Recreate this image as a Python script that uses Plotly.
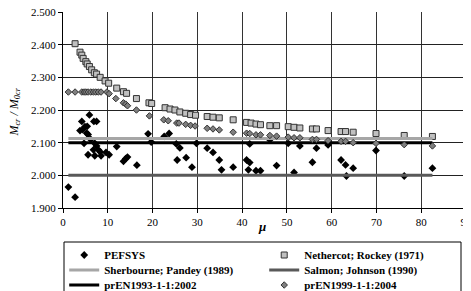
import plotly.graph_objects as go

# ---- data ----
pef_mu = [1.2, 2.7, 3.8, 4.2, 4.4, 4.7, 4.9, 5.3, 5.4, 5.6, 5.6, 5.9, 6.2, 6.8, 6.9, 7.1, 7.1, 7.5, 7.5,
          7.9, 8.3, 8.5, 9.6, 10.3, 12.0, 13.5, 14.0, 14.4, 16.5, 19.0, 19.7, 22.6, 23.7, 25.3, 26.1,
          25.5, 27.5, 28.8, 29.8, 32.2, 33.5, 34.9, 35.4, 38.0, 41.0, 41.7, 41.4, 43.1, 44.1, 41.7,
          46.2, 47.7, 50.3, 51.6, 52.9, 55.7, 56.6, 59.2, 62.1, 63.1, 63.3, 64.8, 69.9, 76.2, 82.5]
pef_val = [1.964, 1.933, 2.137, 2.165, 2.140, 2.098, 2.149, 2.129, 2.150, 2.125, 2.063, 2.185, 2.110,
           2.078, 2.165, 2.098, 2.060, 2.165, 2.090, 2.078, 2.072, 2.060, 2.070, 2.063, 2.088, 2.043,
           2.051, 2.056, 2.031, 2.127, 2.102, 2.119, 2.128, 2.096, 2.084, 2.047, 2.054, 2.025, 2.098,
           2.083, 2.070, 2.047, 2.017, 2.025, 2.047, 2.039, 2.017, 2.014, 2.014, 2.096, 2.109, 2.030,
           2.098, 2.009, 2.090, 2.040, 2.083, 2.093, 2.047, 2.032, 1.998, 2.022, 2.076, 1.998, 2.022]

net_mu = [2.7, 3.8, 4.2, 4.5, 5.1, 5.4, 5.9, 6.4, 7.0, 7.5, 8.3, 9.4, 10.2, 12.0, 13.5, 14.2, 16.4,
          19.2, 19.8, 22.8, 23.9, 25.0, 26.1, 27.4, 28.5, 29.6, 32.2, 33.5, 34.9, 38.0, 41.0, 42.0,
          43.1, 44.1, 46.2, 47.7, 50.3, 51.6, 52.9, 55.7, 56.6, 59.2, 62.1, 63.1, 64.8, 69.9, 76.2, 82.5]
net_val = [2.403, 2.377, 2.368, 2.358, 2.348, 2.341, 2.333, 2.323, 2.314, 2.310, 2.300, 2.289, 2.282,
           2.267, 2.256, 2.251, 2.235, 2.222, 2.220, 2.207, 2.203, 2.200, 2.194, 2.190, 2.186, 2.184,
           2.180, 2.178, 2.176, 2.170, 2.162, 2.160, 2.157, 2.155, 2.152, 2.152, 2.149, 2.147, 2.145,
           2.142, 2.142, 2.137, 2.134, 2.134, 2.132, 2.128, 2.122, 2.119]

en99_mu = [1.2, 2.7, 4.2, 4.7, 5.1, 5.6, 6.2, 6.8, 7.3, 7.9, 8.5, 9.8, 10.3, 11.8, 13.5, 14.0, 14.4,
           16.4, 19.3, 22.5, 23.5, 25.4, 25.9, 27.4, 28.5, 29.5, 32.2, 33.5, 34.9, 38.0, 41.0, 41.7,
           43.1, 44.1, 46.2, 47.7, 50.3, 51.6, 52.9, 55.7, 56.6, 59.2, 62.1, 63.1, 64.8, 69.9, 76.2, 82.5]
en99_val = [2.255, 2.255, 2.255, 2.255, 2.255, 2.255, 2.255, 2.255, 2.255, 2.255, 2.255, 2.255, 2.250,
            2.235, 2.222, 2.218, 2.213, 2.200, 2.182, 2.170, 2.167, 2.160, 2.160, 2.156, 2.153, 2.151,
            2.144, 2.142, 2.139, 2.132, 2.129, 2.128, 2.124, 2.124, 2.122, 2.120, 2.117, 2.115, 2.115,
            2.110, 2.110, 2.106, 2.104, 2.104, 2.100, 2.098, 2.094, 2.090]

line_mu = [1.2, 82.5]
sherbourne_val = [2.113, 2.113]
salmon_val = [2.000, 2.000]
en93_val = [2.100, 2.100]

x_ticks = [0, 10, 20, 30, 40, 50, 60, 70, 80, 90]
y_ticks = [1.9, 2.0, 2.1, 2.2, 2.3, 2.4, 2.5]

SERIF = "Liberation Serif, Times New Roman, serif"

fig = go.Figure()
fig.add_trace(go.Scatter(x=pef_mu, y=pef_val, mode="markers", name="PEFSYS", legend="legend",
                         marker=dict(symbol="diamond", size=6, color="#000000")))
fig.add_trace(go.Scatter(x=net_mu, y=net_val, mode="markers", name="Nethercot; Rockey (1971)",
                         legend="legend",
                         marker=dict(symbol="square", size=6, color="#c0c0c0",
                                     line=dict(color="#333333", width=1))))
fig.add_trace(go.Scatter(x=line_mu, y=sherbourne_val, mode="lines", name="Sherbourne; Pandey (1989)",
                         legend="legend2", line=dict(color="#a6a6a6", width=3)))
fig.add_trace(go.Scatter(x=line_mu, y=salmon_val, mode="lines", name="Salmon; Johnson (1990)",
                         legend="legend2", line=dict(color="#595959", width=3)))
fig.add_trace(go.Scatter(x=line_mu, y=en93_val, mode="lines", name="prEN1993-1-1:2002",
                         legend="legend3", line=dict(color="#000000", width=3)))
fig.add_trace(go.Scatter(x=en99_mu, y=en99_val, mode="markers", name="prEN1999-1-1:2004",
                         legend="legend3",
                         marker=dict(symbol="diamond", size=5, color="#7f7f7f",
                                     line=dict(color="#333333", width=1))))

# The page body has an 8px margin, so the figure is drawn 8px right/down in the window.
# Target plot area in window pixels: x 63..466, y 12..208 (height 196).
def py(px):
    return (208 - px) / 196.0

leg_common = dict(orientation="h", x=0.003, xanchor="left", yanchor="middle",
                  borderwidth=0, bgcolor="rgba(0,0,0,0)",
                  entrywidth=155, entrywidthmode="pixels", itemwidth=30,
                  font=dict(family=SERIF, size=11, color="black", weight="bold"))

fig.update_layout(
    width=463, height=283,
    margin=dict(l=55, r=5, t=4, b=83, autoexpand=False),
    paper_bgcolor="white", plot_bgcolor="white",
    font=dict(family=SERIF, size=11, color="black"),
    showlegend=True,
    legend=dict(leg_common, y=py(255)),
    legend2=dict(leg_common, y=py(270)),
    legend3=dict(leg_common, y=py(285)),
    xaxis=dict(range=[0, 90], tickvals=x_ticks, ticks="outside", ticklen=4, tickcolor="black",
               showline=True, linecolor="black", linewidth=1, ticklabeloverflow="allow",
               showgrid=True, gridcolor="#333333", gridwidth=1, zeroline=False,
               tickfont=dict(family=SERIF, size=11)),
    yaxis=dict(range=[1.9, 2.5], tickvals=y_ticks, tickformat=".3f", ticks="outside", ticklen=4,
               tickcolor="black", showline=True, linecolor="black", linewidth=1,
               ticklabeloverflow="allow",
               showgrid=True, gridcolor="#222222", gridwidth=1, zeroline=False,
               tickfont=dict(family=SERIF, size=11)),
    shapes=[dict(type="rect", xref="paper", yref="paper",
                 x0=(64 - 63) / 403.0, x1=(461 - 63) / 403.0, y0=py(242), y1=py(300),
                 line=dict(color="black", width=1), fillcolor="rgba(0,0,0,0)")],
    annotations=[
        dict(text="<b><i>μ</i></b>", xref="x", yref="paper", x=44.4, y=py(226),
             xanchor="center", yanchor="middle", showarrow=False,
             font=dict(family=SERIF, size=13)),
        dict(text="<i>M<sub>cr</sub> / M<sub>0cr</sub></i>", xref="paper", yref="paper",
             x=-0.12, y=0.49, xanchor="center", yanchor="middle", textangle=-90,
             showarrow=False, font=dict(family=SERIF, size=12)),
    ],
)

fig.write_html("out.html")
